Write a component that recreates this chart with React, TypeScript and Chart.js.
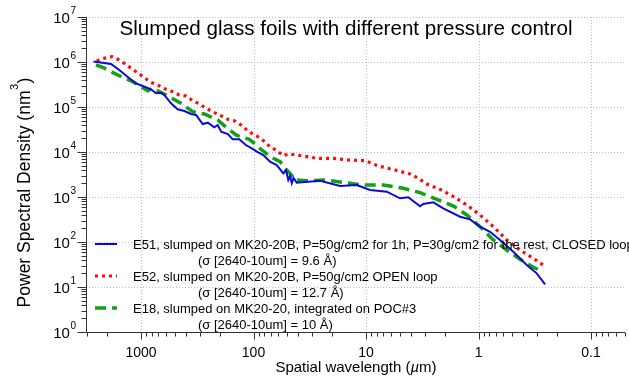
import React, { useEffect, useRef } from "react";
import { Chart, registerables } from "chart.js";

Chart.register(...registerables);

// ---- data (wavelength in µm, PSD in nm^3) ----
const e51Wavelength = [2640, 1849, 1560, 1270, 1108, 966, 815, 736, 664, 621, 541, 472, 412, 359, 324, 283, 255, 223, 208, 194, 169, 153, 134, 117, 98.4, 93.7, 81.8, 71.3, 62.2, 54.3, 51.4, 49.1, 47.4, 45.7, 44.1, 41.3, 25.6, 17.0, 12.1, 9.21, 6.54, 4.99, 4.21, 3.31, 3.10, 2.52, 2.06, 1.46, 1.19, 0.97, 0.79, 0.644, 0.491, 0.373, 0.304, 0.256];
const e51Psd = [1.02e6, 9.0e5, 6.64e5, 4.34e5, 3.36e5, 2.93e5, 2.47e5, 2.02e5, 2.08e5, 1.85e5, 1.21e5, 8.9e4, 8.15e4, 6.99e4, 6.64e4, 4.19e4, 4.48e4, 3.54e4, 3.98e4, 2.83e4, 2.51e4, 1.91e4, 1.91e4, 1.43e4, 1.11e4, 1.02e4, 8.58e3, 6.09e3, 5.14e3, 3.36e3, 3.98e3, 2.39e3, 2.93e3, 2.02e3, 2.64e3, 2.08e3, 2.30e3, 1.76e3, 1.85e3, 1.43e3, 1.31e3, 935, 985, 621, 699, 762, 561, 365, 319, 219, 169, 111, 60.9, 30.8, 20.1, 11.5];

const e52Wavelength = [2477, 2120, 1811, 1611, 1406, 1227, 1069, 935, 815, 711, 600, 523, 457, 398, 347, 303, 264, 231, 201, 169, 148, 129, 113, 98.4, 93.7, 81.8, 71.3, 62.2, 54.3, 49.1, 37.3, 27.4, 19.5, 14.4, 10.2, 7.78, 5.52, 4.06, 3.43, 2.88, 2.20, 1.67, 1.27, 0.97, 0.738, 0.561, 0.428, 0.326, 0.267];
const e52Psd = [1.05e6, 1.21e6, 1.31e6, 1.15e6, 9.36e5, 7.24e5, 5.78e5, 4.48e5, 3.54e5, 3.08e5, 2.47e5, 2.19e5, 1.85e5, 1.76e5, 1.38e5, 1.17e5, 9.35e4, 7.87e4, 6.64e4, 5.33e4, 4.96e4, 3.98e4, 2.98e4, 2.39e4, 2.27e4, 1.79e4, 1.31e4, 1.07e4, 8.28e3, 9.03e3, 8.28e3, 7.24e3, 7.24e3, 6.64e3, 6.41e3, 4.89e3, 3.98e3, 3.24e3, 2.60e3, 1.94e3, 1.48e3, 1.02e3, 664, 398, 219, 111, 66.4, 43.4, 30.8];

const e18Wavelength = [2512, 2188, 1611, 1186, 871, 787, 600, 441, 347, 274, 208, 175, 143, 125, 109, 97, 84.6, 73.9, 66.7, 58.1, 52.5, 47.4, 42.8, 33.7, 23.1, 15.4, 10.6, 7.02, 4.66, 3.31, 2.20, 1.67, 1.27, 0.97, 0.738, 0.561, 0.428, 0.326, 0.265];
const e18Psd = [8.58e5, 7.62e5, 5.14e5, 3.65e5, 2.30e5, 2.61e5, 1.85e5, 1.21e5, 7.87e4, 6.99e4, 5.14e4, 3.54e4, 2.39e4, 2.12e4, 1.91e4, 1.51e4, 1.11e4, 8.58e3, 7.24e3, 6.09e3, 4.34e3, 3.36e3, 2.39e3, 2.30e3, 2.39e3, 2.08e3, 1.85e3, 1.85e3, 1.56e3, 1.25e3, 828, 631, 398, 219, 111, 66.4, 41.2, 27.4, 21.9];

const xTickValues = [1000, 100, 10, 1, 0.1];
const xTickLabels = ["1000", "100", "10", "1", "0.1"];
const yTickExponents = [0, 1, 2, 3, 4, 5, 6, 7];
const xRange = [0.0499, 3083];
const yRange = [1, 1e7];

const titleText = "Slumped glass foils with different pressure control";
const xTitleMain = "Spatial wavelength (";
const xTitleUnit = "µ";
const xTitleEnd = "m)";
const yTitleMain = "Power Spectral Density (nm";
const yTitleSup = "3";
const yTitleEnd = ")";

const seriesLabels = [
  "E51, slumped on MK20-20B, P=50g/cm2 for 1h, P=30g/cm2 for the rest, CLOSED loop",
  "E52, slumped on MK20-20B, P=50g/cm2 OPEN loop",
  "E18, slumped on MK20-20, integrated on POC#3",
];
const sigmaLabels = [
  "(σ [2640-10um] = 9.6 Å)",
  "(σ [2640-10um] = 12.7 Å)",
  "(σ [2640-10um] = 10 Å)",
];

const FONT = "'Liberation Sans', Arial, sans-serif";
const BLUE = "#0a0ad2";
const RED = "#ff0a0a";
const GREEN = "#14a014";
const GRID = "#b8b8f4";
const AXIS = "#333333";

const styles = [
  { color: BLUE, width: 2, dash: [] as number[] },
  { color: RED, width: 3.2, dash: [3, 4] },
  { color: GREEN, width: 3.5, dash: [11, 6] },
];

const toPoints = (xs: number[], ys: number[]) => xs.map((x, i) => ({ x, y: ys[i] }));

const decorPlugin = {
  id: "decor",
  beforeDatasetsDraw(chart: any) {
    const { ctx, chartArea: a, scales } = chart;
    const x = scales.x;
    const y = scales.y;
    ctx.save();
    ctx.strokeStyle = GRID;
    ctx.lineWidth = 1;
    ctx.setLineDash([1, 2]);
    for (const e of yTickExponents) {
      const py = Math.round(y.getPixelForValue(Math.pow(10, e))) + 0.5;
      ctx.beginPath();
      ctx.moveTo(a.left, py);
      ctx.lineTo(a.right, py);
      ctx.stroke();
    }
    for (const v of xTickValues) {
      const px = Math.round(x.getPixelForValue(v)) + 0.5;
      ctx.beginPath();
      ctx.moveTo(px, a.top);
      ctx.lineTo(px, a.bottom);
      ctx.stroke();
    }
    ctx.restore();
  },
  afterDraw(chart: any) {
    const { ctx, chartArea: a, scales } = chart;
    const x = scales.x;
    const y = scales.y;
    ctx.save();
    ctx.setLineDash([]);
    ctx.strokeStyle = AXIS;
    ctx.lineWidth = 1;
    const left = a.left + 0.5;
    const bottom = a.bottom + 0.5;
    ctx.beginPath();
    ctx.moveTo(left, a.top);
    ctx.lineTo(left, bottom);
    ctx.lineTo(a.right, bottom);
    ctx.stroke();
    for (let d = 0; d <= 7; d++) {
      for (let k = 1; k <= 9; k++) {
        const v = k * Math.pow(10, d);
        if (v > yRange[1] + 1e-6) continue;
        const py = Math.round(y.getPixelForValue(v)) + 0.5;
        const len = k === 1 ? 9 : 5;
        ctx.beginPath();
        ctx.moveTo(left - len, py);
        ctx.lineTo(left, py);
        ctx.stroke();
      }
    }
    for (let d = -2; d <= 3; d++) {
      for (let k = 1; k <= 9; k++) {
        const v = k * Math.pow(10, d);
        if (v < xRange[0] || v > xRange[1]) continue;
        const px = Math.round(x.getPixelForValue(v)) + 0.5;
        const len = k === 1 ? 7 : 4;
        ctx.beginPath();
        ctx.moveTo(px, bottom);
        ctx.lineTo(px, bottom + len);
        ctx.stroke();
      }
    }
    ctx.fillStyle = "#000";
    for (const e of yTickExponents) {
      const py = y.getPixelForValue(Math.pow(10, e));
      ctx.font = `10px ${FONT}`;
      ctx.textAlign = "right";
      ctx.textBaseline = "middle";
      const supW = ctx.measureText(String(e)).width;
      ctx.fillText(String(e), 76, py - 6);
      ctx.font = `15px ${FONT}`;
      ctx.fillText("10", 76 - supW - 0.5, py + 2);
    }
    ctx.font = `14px ${FONT}`;
    ctx.textAlign = "center";
    ctx.textBaseline = "middle";
    xTickValues.forEach((v, i) => {
      ctx.fillText(xTickLabels[i], x.getPixelForValue(v), 353);
    });
    {
      const ty = 368;
      ctx.font = `15px ${FONT}`;
      const w1 = ctx.measureText(xTitleMain).width;
      ctx.font = `italic 15px ${FONT}`;
      const w2 = ctx.measureText(xTitleUnit).width;
      ctx.font = `15px ${FONT}`;
      const w3 = ctx.measureText(xTitleEnd).width;
      const sx = 356 - (w1 + w2 + w3) / 2;
      ctx.textAlign = "left";
      ctx.fillText(xTitleMain, sx, ty);
      ctx.font = `italic 15px ${FONT}`;
      ctx.fillText(xTitleUnit, sx + w1, ty);
      ctx.font = `15px ${FONT}`;
      ctx.fillText(xTitleEnd, sx + w1 + w2, ty);
    }
    {
      ctx.save();
      ctx.translate(25, 193);
      ctx.rotate(-Math.PI / 2);
      const fs = 17.5;
      ctx.font = `${fs}px ${FONT}`;
      const w1 = ctx.measureText(yTitleMain).width;
      ctx.font = `11px ${FONT}`;
      const w2 = ctx.measureText(yTitleSup).width;
      ctx.font = `${fs}px ${FONT}`;
      const w3 = ctx.measureText(yTitleEnd).width;
      const sx = -(w1 + w2 + w3) / 2;
      ctx.textAlign = "left";
      ctx.textBaseline = "middle";
      ctx.fillText(yTitleMain, sx, 0);
      ctx.font = `11px ${FONT}`;
      ctx.fillText(yTitleSup, sx + w1 + 0.5, -10);
      ctx.font = `${fs}px ${FONT}`;
      ctx.fillText(yTitleEnd, sx + w1 + w2 + 1, 0);
      ctx.restore();
    }
    ctx.font = `20.6px ${FONT}`;
    ctx.textAlign = "center";
    ctx.textBaseline = "middle";
    ctx.fillText(titleText, 346, 29);
    ctx.textAlign = "left";
    ctx.textBaseline = "middle";
    seriesLabels.forEach((lab, i) => {
      const rowY = 244 + i * 32;
      const st = styles[i];
      ctx.strokeStyle = st.color;
      ctx.lineWidth = st.width;
      ctx.setLineDash(st.dash);
      ctx.beginPath();
      ctx.moveTo(95, rowY);
      ctx.lineTo(117, rowY);
      ctx.stroke();
      ctx.setLineDash([]);
      ctx.font = `13px ${FONT}`;
      ctx.fillStyle = "#000";
      ctx.fillText(lab, 133, rowY + 1);
      ctx.fillText(sigmaLabels[i], 198, rowY + 17);
    });
    ctx.restore();
  },
};

export default function App() {
  const ref = useRef<HTMLCanvasElement | null>(null);
  useEffect(() => {
    if (!ref.current) return;
    const series = [
      { label: "E51", xs: e51Wavelength, ys: e51Psd },
      { label: "E52", xs: e52Wavelength, ys: e52Psd },
      { label: "E18", xs: e18Wavelength, ys: e18Psd },
    ];
    const chart = new Chart(ref.current, {
      type: "line",
      data: {
        datasets: series.map((s, i) => ({
          label: s.label,
          data: toPoints(s.xs, s.ys),
          borderColor: styles[i].color,
          borderWidth: styles[i].width,
          borderDash: styles[i].dash,
          pointRadius: 0,
          tension: 0,
          fill: false,
        })),
      },
      options: {
        animation: false,
        responsive: false,
        devicePixelRatio: 1,
        layout: { padding: { left: 86, top: 17, right: 4, bottom: 49 } },
        plugins: { legend: { display: false }, title: { display: false }, tooltip: { enabled: false } },
        scales: {
          x: { type: "logarithmic", reverse: true, min: xRange[0], max: xRange[1], display: false },
          y: { type: "logarithmic", min: yRange[0], max: yRange[1], display: false },
        },
      },
      plugins: [decorPlugin],
    } as any);
    return () => chart.destroy();
  }, []);
  return (
    <div style={{ position: "absolute", left: 0, top: 0, width: 629, height: 381, background: "#fff" }}>
      <canvas ref={ref} width={629} height={381} />
    </div>
  );
}
